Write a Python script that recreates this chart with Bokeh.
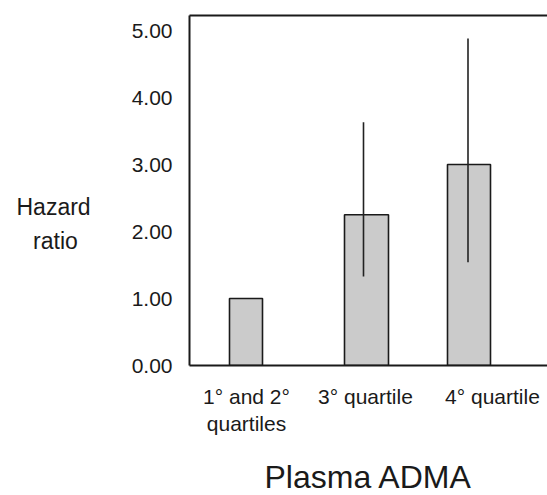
from bokeh.plotting import figure
from bokeh.models import Range1d, FixedTicker, LinearAxis, NumeralTickFormatter
from bokeh.embed import file_html
from bokeh.resources import INLINE

# ---- data ----
categories = ["1° and 2°\nquartiles", "3° quartile", "4° quartile"]
hazard_ratio = [1.00, 2.25, 3.00]
ci_lower = [None, 1.33, 1.54]
ci_upper = [None, 3.63, 4.88]
y_ticks = [0, 1, 2, 3, 4, 5]
y_title = ["Hazard", "ratio"]
x_title = "Plasma ADMA"

# ---- layout (positions, not data) ----
bar_x = [0.565, 1.77, 2.795]
bar_w = [0.33, 0.44, 0.43]
err_x = [None, 1.74, 2.785]
label_x = [0.57, 1.76, 3.03]

FONT = "Liberation Sans"
NBSP = "\u00a0"

p = figure(frame_width=358, frame_height=350, output_backend="svg", toolbar_location=None,
           x_range=Range1d(0, 3.58), y_range=Range1d(0, 5.224),
           min_border_left=189, min_border_top=15, min_border_right=0, min_border_bottom=130,
           x_axis_location=None, y_axis_location=None)
p.outline_line_color = None
p.xgrid.visible = False
p.ygrid.visible = False
p.background_fill_color = "white"
p.border_fill_color = "white"

p.vbar(x=bar_x, top=hazard_ratio, width=bar_w, bottom=0,
       fill_color="#cbcbcb", line_color="#1a1a1a", line_width=1.6)

ex = [x for x, lo in zip(err_x, ci_lower) if lo is not None]
lo = [v for v in ci_lower if v is not None]
hi = [v for v in ci_upper if v is not None]
p.segment(x0=ex, y0=lo, x1=ex, y1=hi, line_color="#222222", line_width=1.6)

# y axis
yaxis = LinearAxis(ticker=FixedTicker(ticks=y_ticks), formatter=NumeralTickFormatter(format="0.00"))
yaxis.major_tick_line_color = None
yaxis.minor_tick_line_color = None
yaxis.axis_line_color = "#1a1a1a"
yaxis.axis_line_width = 2
yaxis.major_label_text_font = FONT
yaxis.major_label_text_font_size = "21px"
yaxis.major_label_text_color = "#1a1a1a"
yaxis.major_label_standoff = 11
# two empty leading lines shift the visible lines down below the axis centre;
# non-breaking spaces centre the second line under the first
yaxis.axis_label = "\n\n" + y_title[0] + "\n" + y_title[1] + NBSP * 2
yaxis.axis_label_orientation = "horizontal"
yaxis.axis_label_text_font = FONT
yaxis.axis_label_text_font_size = "23px"
yaxis.axis_label_text_font_style = "normal"
yaxis.axis_label_text_color = "#1a1a1a"
yaxis.axis_label_text_line_height = 1.3
yaxis.axis_label_standoff = 38
p.add_layout(yaxis, "left")

# x axis
xaxis = LinearAxis(ticker=FixedTicker(ticks=label_x))
xaxis.major_label_overrides = {lx: c for lx, c in zip(label_x, categories)}
xaxis.major_tick_line_color = None
xaxis.minor_tick_line_color = None
xaxis.axis_line_color = "#1a1a1a"
xaxis.axis_line_width = 2
xaxis.major_label_text_font = FONT
xaxis.major_label_text_font_size = "21px"
xaxis.major_label_text_color = "#1a1a1a"
xaxis.major_label_standoff = 13
xaxis.axis_label = x_title
xaxis.axis_label_text_font = FONT
xaxis.axis_label_text_font_size = "32px"
xaxis.axis_label_text_font_style = "normal"
xaxis.axis_label_text_color = "#1a1a1a"
xaxis.axis_label_text_line_height = 1.0
xaxis.axis_label_standoff = 21
p.add_layout(xaxis, "below")

# top border line
top = LinearAxis(ticker=FixedTicker(ticks=[]))
top.major_tick_line_color = None
top.minor_tick_line_color = None
top.major_label_text_font_size = "0px"
top.axis_line_color = "#1a1a1a"
top.axis_line_width = 2
p.add_layout(top, "above")

open("out.html", "w").write(file_html(p, INLINE))
